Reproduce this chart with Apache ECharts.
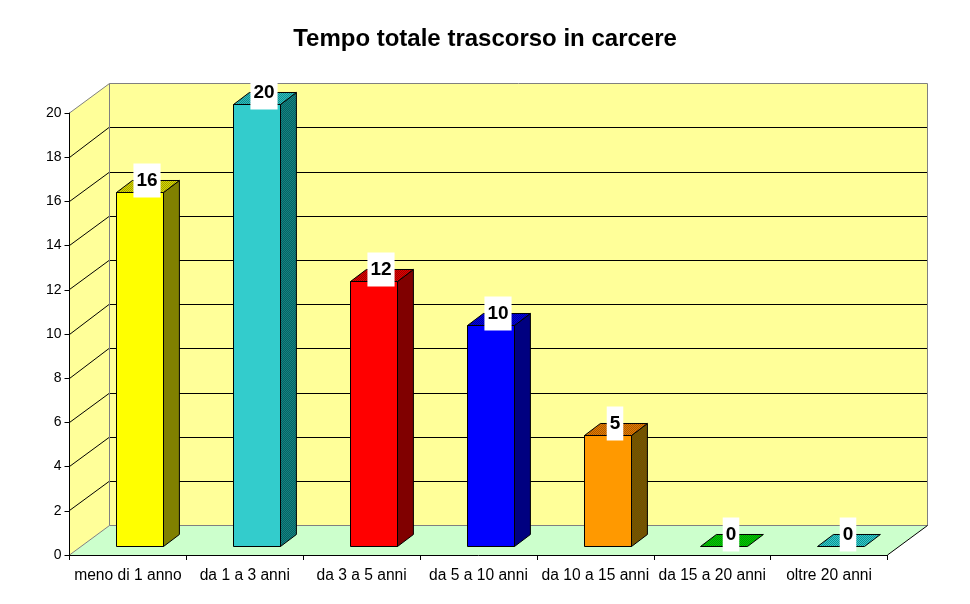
<!DOCTYPE html>
<html>
<head>
<meta charset="utf-8">
<style>html,body{margin:0;padding:0;background:#fff}#c{width:970px;height:604px}</style>
<script src="https://cdn.jsdelivr.net/npm/echarts@6/dist/echarts.min.js"></script>
</head>
<body>
<div id="c"></div>
<script>
const categories = ['meno di 1 anno','da 1 a 3 anni','da 3 a 5 anni','da 5 a 10 anni','da 10 a 15 anni','da 15 a 20 anni','oltre 20 anni'];
const values = [16,20,12,10,5,0,0];
const yTicks = [0,2,4,6,8,10,12,14,16,18,20];
const titleText = 'Tempo totale trascorso in carcere';

const frontColors = ['#FFFF00','#33CCCC','#FF0000','#0000FF','#FF9900','#00CC00','#00CCCC'];
const topColors = [['#D8D800','#A0A000'],['#33BBBB','#109090'],['#E00000','#A00000'],['#0000E0','#0000A0'],['#E07F00','#B05500'],['#00CC00','#009900'],['#33CCCC','#109090']];
const sideColors = [['#808000','#808000'],['#006666','#1A8080'],['#800000','#800000'],['#000080','#000080'],['#804000','#666600'],['#006600','#006600'],['#006666','#006666']];

function dither(pair){
  const cv = document.createElement('canvas');
  cv.width = 2; cv.height = 2;
  const g = cv.getContext('2d');
  g.fillStyle = pair[0]; g.fillRect(0,0,2,2);
  g.fillStyle = pair[1]; g.fillRect(0,0,1,1); g.fillRect(1,1,1,1);
  return {image: cv, repeat: 'repeat'};
}

const DX = 39.5, DY = 29.3;      // wall depth on screen
const BAR_NEAR = 0.30, BAR_FAR = 0.71; // bar position within the depth
const BAR_W = 0.4;               // share of a category band

function snap(v){ return Math.round(v - 0.5) + 0.5; }
function poly(points, fill, stroke, z2){
  return {type:'polygon', z2: z2||0, shape:{points}, style:{fill: fill, stroke: stroke||null, lineWidth:1}};
}
function line(x1,y1,x2,y2,stroke,z2){
  return {type:'line', z2:z2||1, shape:{x1,y1,x2,y2}, style:{stroke, lineWidth:1, fill:null}};
}

function renderWalls(params, api){
  const cs = params.coordSys;
  const x0 = cs.x, x1 = cs.x + cs.width;
  const y0 = api.coord([0,0])[1], yT = api.coord([0,20])[1];
  const kids = [];
  kids.push(poly([[x0,y0],[x1,y0],[x1+DX,y0-DY],[x0+DX,y0-DY]], '#CCFFCC'));
  kids.push(poly([[x0,y0],[x0+DX,y0-DY],[x0+DX,yT-DY],[x0,yT]], '#FFFF99'));
  kids.push(poly([[x0+DX,y0-DY],[x1+DX,y0-DY],[x1+DX,yT-DY],[x0+DX,yT-DY]], '#FFFF99'));
  yTicks.forEach(t => {
    if (t === 0 || t === 20) return;
    const yf = api.coord([0,t])[1];
    const yb = snap(yf-DY);
    kids.push(line(x0,snap(yf),x0+DX,yb,'#000'));
    kids.push(line(x0+DX,yb,x1+DX,yb,'#000'));
  });
  const gx = snap(x0+DX), gr = snap(x1+DX), gt = snap(yT-DY), gb = snap(y0-DY);
  kids.push(line(gx,gt,gx,gb,'#808080',2));
  kids.push(line(gr,gt,gr,gb,'#808080',2));
  kids.push(line(gx,gt,gr,gt,'#808080',2));
  kids.push(line(gx,gb,gr,gb,'#808080',2));
  kids.push(line(x0,yT,gx,gt,'#808080',2));
  kids.push(line(x0,y0,gx,gb,'#808080',2));
  kids.push(line(x1,y0,gr,gb,'#000',2));
  return {type:'group', children:kids};
}

function renderBar(params, api){
  const i = api.value(0), v = api.value(1);
  const base = api.coord([i,0]), top = api.coord([i,v]);
  const band = api.size([1,0])[0];
  const w = band * BAR_W;
  const nx = DX*BAR_NEAR+0.3, ny = DY*BAR_NEAR, fx = DX*BAR_FAR, fy = DY*BAR_FAR;
  const l = snap(base[0]-w/2+nx), r = l + Math.round(w);
  const b = snap(base[1]-ny), t = snap(top[1]-ny);
  const ox = fx-nx, oy = fy-ny;
  const kids = [];
  if (v > 0){
    kids.push(poly([[l,t],[r,t],[r,b],[l,b]], frontColors[i], '#000', 3));
    kids.push(poly([[r,t],[r+ox,t-oy],[r+ox,b-oy],[r,b]], dither(sideColors[i]), '#000', 3));
  }
  kids.push(poly([[l,t],[r,t],[r+ox,t-oy],[l+ox,t-oy]], dither(topColors[i]), '#000', 3));
  kids.push({type:'text', z2:5, style:{
    text:String(v), x:(l+r)/2+7, y:t-12, align:'center', verticalAlign:'middle',
    fontFamily:'"Liberation Sans",Arial,sans-serif', fontWeight:'bold', fontSize:19,
    fill:'#000', backgroundColor:'#fff', padding:[8,3,7,3]
  }});
  return {type:'group', children:kids};
}

const chart = echarts.init(document.getElementById('c'), null, {renderer:'canvas'});
chart.setOption({
  animation:false,
  backgroundColor:'#fff',
  title:{text:titleText, left:'center', top:27, padding:0, itemGap:0,
    textStyle:{fontFamily:'"Liberation Sans",Arial,sans-serif', fontWeight:'bold', fontSize:24, color:'#000'}},
  grid:{left:69.5, right:82.5, top:113, bottom:49, containLabel:false},
  xAxis:{type:'category', data:categories, z:10,
    axisLine:{lineStyle:{color:'#000',width:1}},
    axisTick:{show:true, alignWithLabel:false, length:5, lineStyle:{color:'#000'}},
    axisLabel:{interval:0, color:'#000', fontSize:15.6, margin:13, fontFamily:'"Liberation Sans",Arial,sans-serif'},
    splitLine:{show:false}},
  yAxis:{type:'value', min:0, max:20, interval:2, z:10,
    axisLine:{show:true, lineStyle:{color:'#000',width:1}},
    axisTick:{show:true, length:5, lineStyle:{color:'#000'}},
    axisLabel:{color:'#000', fontSize:14, margin:8, fontFamily:'"Liberation Sans",Arial,sans-serif'},
    splitLine:{show:false}},
  series:[
    {type:'custom', coordinateSystem:'cartesian2d', z:1, silent:true, data:[[0,0]], renderItem:renderWalls, clip:false},
    {type:'custom', coordinateSystem:'cartesian2d', z:2, silent:true, clip:false,
      data:values.map((v,i)=>[i,v]), encode:{x:0,y:1}, renderItem:renderBar}
  ]
});
</script>
</body>
</html>
